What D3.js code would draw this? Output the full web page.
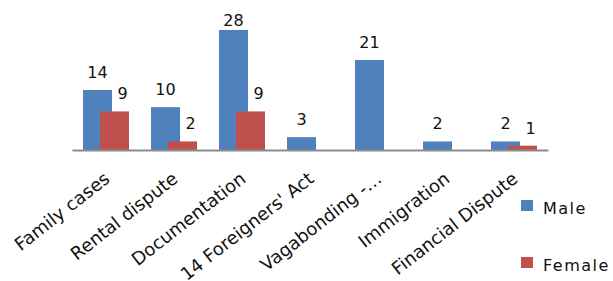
<!DOCTYPE html>
<html><head><meta charset="utf-8">
<script src="https://cdn.jsdelivr.net/npm/d3@7"></script>
<style>body{margin:0;background:#fff}svg{display:block}</style>
</head><body>
<svg id="c" width="613" height="281"></svg>
<script>
const categories = ["Family cases","Rental dispute","Documentation","14 Foreigners' Act","Vagabonding -…","Immigration","Financial Dispute"];
const male = [14,10,28,3,21,2,2];
const female = [9,2,9,null,null,null,1];
const seriesNames = ["Male","Female"];
const colors = ["#4F81BD","#C0504D"];

const svg = d3.select("#c");
const x = d3.scaleBand().domain(categories).range([72,548]);
const y = d3.scaleLinear().domain([0,28]).range([150,30]);
const barW = 29, off = 17;
const font = "'DejaVu Sans', Verdana, sans-serif";

const data = [male, female];
data.forEach((vals, s) => {
  const g = svg.append("g");
  const rows = categories.map((c,i)=>({c, v: vals[i]})).filter(d=>d.v!=null);
  g.selectAll("rect").data(rows).enter().append("rect")
    .attr("x", d => x(d.c) + x.bandwidth()/2 - 23 + s*off)
    .attr("y", d => y(d.v))
    .attr("width", barW)
    .attr("height", d => y(0) - y(d.v))
    .attr("fill", colors[s]);
  g.selectAll("text").data(rows).enter().append("text")
    .attr("x", d => x(d.c) + x.bandwidth()/2 - 23 + s*off + barW/2 + (s ? 8 : 0))
    .attr("y", d => Math.max(y(d.v) - 12, 26))
    .attr("text-anchor","middle")
    .attr("font-family", font).attr("font-size", 16).attr("fill","#111")
    .text(d => d.v);
});

// axis
const ax = svg.append("g").attr("transform","translate(0,150)")
  .call(d3.axisBottom(x).tickSize(0).tickPadding(0));
ax.select(".domain").attr("stroke","#8c8c8c").attr("stroke-width",2);
ax.selectAll(".tick text")
  .attr("font-family", font).attr("font-size", 18).attr("fill","#111")
  .attr("text-anchor","end")
  .attr("dy", null).attr("y", 0)
  .attr("transform","translate(5,31) rotate(-38)");

// legend
const lg = svg.append("g");
seriesNames.forEach((n,i) => {
  const yy = [200,257][i];
  lg.append("rect").attr("x",521).attr("y",yy).attr("width",12).attr("height",11).attr("fill",colors[i]);
  lg.append("text").attr("x",543).attr("y",yy+14).attr("font-family",font).attr("font-size",16)
    .attr("letter-spacing",1.5).attr("fill","#111").text(n);
});
</script>
</body></html>
